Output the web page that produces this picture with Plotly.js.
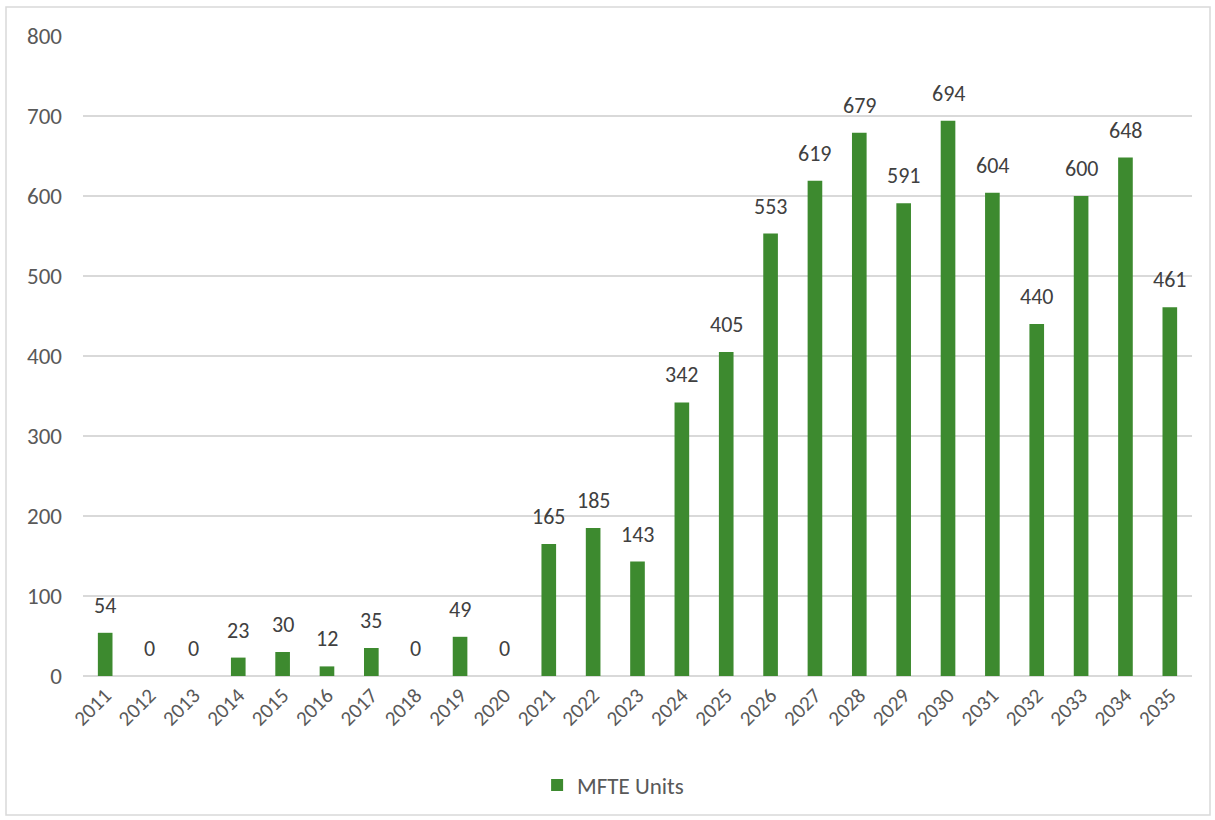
<!DOCTYPE html>
<html>
<head>
<meta charset="utf-8">
<script src="https://cdn.plot.ly/plotly-3.0.1.min.js"></script>
<style>
html,body{margin:0;padding:0;background:#fff;}
#chart{width:1215px;height:820px;}
</style>
</head>
<body>
<div id="chart"></div>
<script>
const years = ['2011','2012','2013','2014','2015','2016','2017','2018','2019','2020','2021','2022','2023','2024','2025','2026','2027','2028','2029','2030','2031','2032','2033','2034','2035'];
const mfteUnits = [54,0,0,23,30,12,35,0,49,0,165,185,143,342,405,553,619,679,591,694,604,440,600,648,461];
const seriesName = 'MFTE Units';
const yTicks = [0,100,200,300,400,500,600,700,800];

const W = 1215, H = 820;
const m = {l:83, r:23, t:36, b:144};
const pw = W - m.l - m.r, ph = H - m.t - m.b;
const font = 'Carlito, Calibri, Lato, "Open Sans", sans-serif';

const trace = {
  type: 'bar',
  x: years,
  y: mfteUnits,
  name: seriesName,
  marker: {color: '#3D8A2F', line: {width: 0}},
  width: 0.33,
  hoverinfo: 'x+y'
};

// category axis: annotation x given as the category index
const labels = years.map((yr, i) => ({
  x: i, y: mfteUnits[i], xref: 'x', yref: 'y',
  text: String(mfteUnits[i]), showarrow: false,
  yanchor: 'bottom', xanchor: 'center', yshift: 12,
  font: {family: font, size: 22, color: '#404040'}
}));

const layout = {
  width: W, height: H,
  margin: m,
  paper_bgcolor: '#fff', plot_bgcolor: '#fff',
  font: {family: font, color: '#595959'},
  showlegend: true,
  legend: {orientation: 'h', x: 0.478, xanchor: 'center', y: (676-785)/ph, yanchor: 'middle',
           font: {family: font, size: 23, color: '#595959'}, itemwidth: 30},
  xaxis: {type: 'category', tickangle: -45, tickfont: {family: font, size: 21, color: '#595959'},
          showgrid: false, showline: false, ticks: '', ticklabelstandoff: 2, fixedrange: true},
  yaxis: {range: [0, 800], tickvals: yTicks, ticktext: yTicks.map(String),
          tickfont: {family: font, size: 23, color: '#595959'},
          showgrid: true, gridcolor: '#D9D9D9', gridwidth: 1.5,
          zeroline: true, zerolinecolor: '#D9D9D9', zerolinewidth: 1.5,
          showline: false, ticks: '', ticklabelstandoff: 20, fixedrange: true},
  annotations: labels,
  shapes: [{
    type: 'rect', xref: 'paper', yref: 'paper',
    x0: (6 - m.l)/pw, x1: (1210 - m.l)/pw,
    y0: (H - m.b - 815)/ph, y1: (H - m.b - 7)/ph,
    line: {color: '#D9D9D9', width: 1.5}, fillcolor: 'rgba(0,0,0,0)', layer: 'below'
  }]
};

Plotly.newPlot('chart', [trace], layout, {displayModeBar: false, staticPlot: true});
</script>
</body>
</html>
